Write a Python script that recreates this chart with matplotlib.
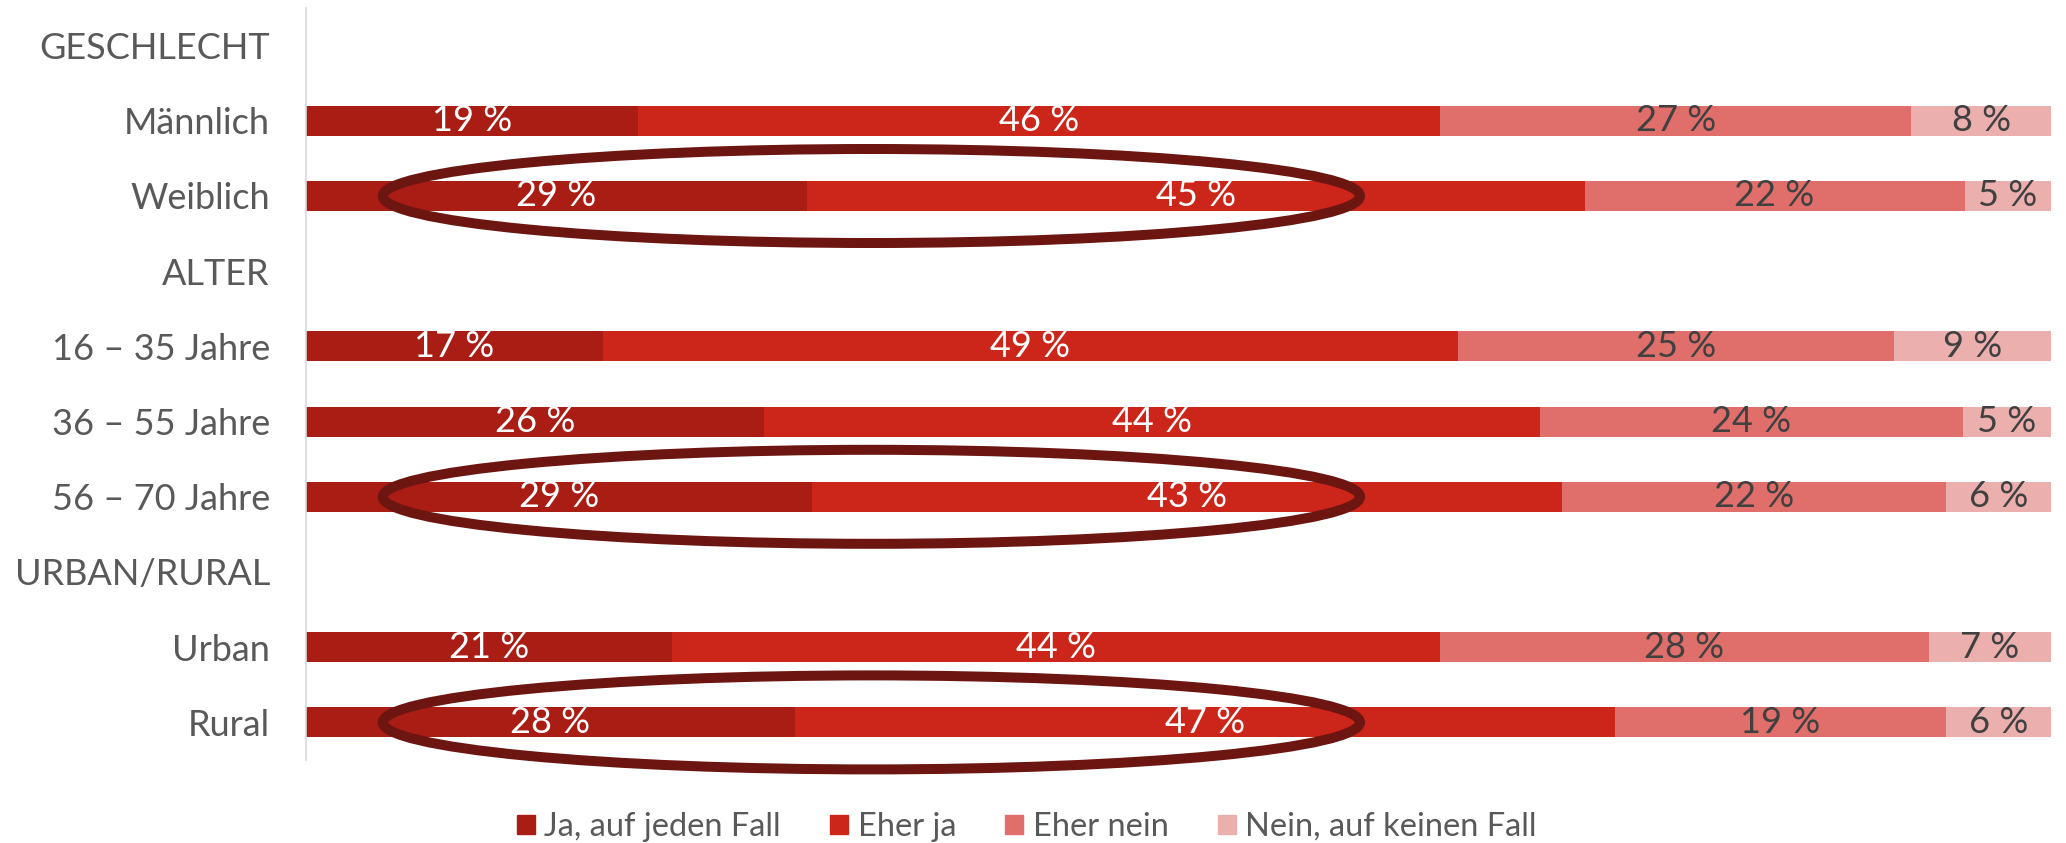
import matplotlib

matplotlib.use("Agg")
import matplotlib.pyplot as plt
from matplotlib.patches import Ellipse, Patch
import numpy as np

plt.rcParams["font.family"] = ["Lato", "DejaVu Sans"]

# ── Data ─────────────────────────────────────────────────────────────────────
rows = [
    "GESCHLECHT",
    "Männlich",
    "Weiblich",
    "ALTER",
    "16 – 35 Jahre",
    "36 – 55 Jahre",
    "56 – 70 Jahre",
    "URBAN/RURAL",
    "Urban",
    "Rural",
]
series = ["Ja, auf jeden Fall", "Eher ja", "Eher nein", "Nein, auf keinen Fall"]
nan = np.nan
ja_jeden_fall = [nan, 19, 29, nan, 17, 26, 29, nan, 21, 28]
eher_ja = [nan, 46, 45, nan, 49, 44, 43, nan, 44, 47]
eher_nein = [nan, 27, 22, nan, 25, 24, 22, nan, 28, 19]
nein_keinen_fall = [nan, 8, 5, nan, 9, 5, 6, nan, 7, 6]
highlighted = ["Weiblich", "56 – 70 Jahre", "Rural"]

# ── Style ────────────────────────────────────────────────────────────────────
COLORS = ["#a91d15", "#cc251a", "#e06f6b", "#ebafae"]
TEXT_COLS = ["white", "white", "#404040", "#404040"]
LABEL_COL = "#595959"
RING_COL = "#6d1511"
FS = 26

vals = np.array([ja_jeden_fall, eher_ja, eher_nein, nein_keinen_fall], dtype=float)
totals = np.nansum(vals, axis=0)
totals[totals == 0] = 1
shares = vals / totals * 100
y = np.arange(len(rows))

fig = plt.figure(figsize=(20.66, 8.43), dpi=100)
ax = fig.add_axes([306 / 2066, 83 / 843, 1745 / 2066, 752 / 843])

left = np.zeros(len(rows))
for k in range(len(series)):
    s = np.nan_to_num(shares[k])
    ax.barh(y, s, left=left, height=0.4, color=COLORS[k], linewidth=0, zorder=2)
    for i in range(len(rows)):
        if np.isnan(vals[k, i]):
            continue
        ax.text(
            left[i] + s[i] / 2,
            y[i],
            f"{vals[k, i]:.0f} %",
            ha="center",
            va="center",
            fontsize=FS,
            color=TEXT_COLS[k],
            zorder=5,
        )
    left += s

# Highlight rings (drawn past the axes bottom, so no clipping)
for name in highlighted:
    i = rows.index(name)
    ax.add_patch(
        Ellipse(
            (32.4, y[i]),
            width=56.0,
            height=1.25,
            fill=False,
            edgecolor=RING_COL,
            linewidth=7.2,
            zorder=4,
            clip_on=False,
        )
    )

ax.set_xlim(0, 100)
ax.set_ylim(len(rows) - 0.5, -0.5)
ax.set_yticks(y)
ax.set_yticklabels(rows, fontsize=FS, color=LABEL_COL)
ax.tick_params(axis="y", length=0, pad=26)
ax.set_xticks([])
for sp in ["top", "right", "bottom"]:
    ax.spines[sp].set_visible(False)
ax.spines["left"].set_color("#d9d9d9")
ax.spines["left"].set_linewidth(1.2)

handles = [Patch(color=c, label=s) for c, s in zip(COLORS, series)]
leg = fig.legend(
    handles=handles,
    loc="center",
    bbox_to_anchor=(0.497, 16 / 843),
    ncol=4,
    frameon=False,
    fontsize=23.5,
    handlelength=0.55,
    handleheight=0.55,
    handletextpad=0.3,
    columnspacing=1.5,
)
for t in leg.get_texts():
    t.set_color(LABEL_COL)

fig.savefig("out.png", dpi=100)
